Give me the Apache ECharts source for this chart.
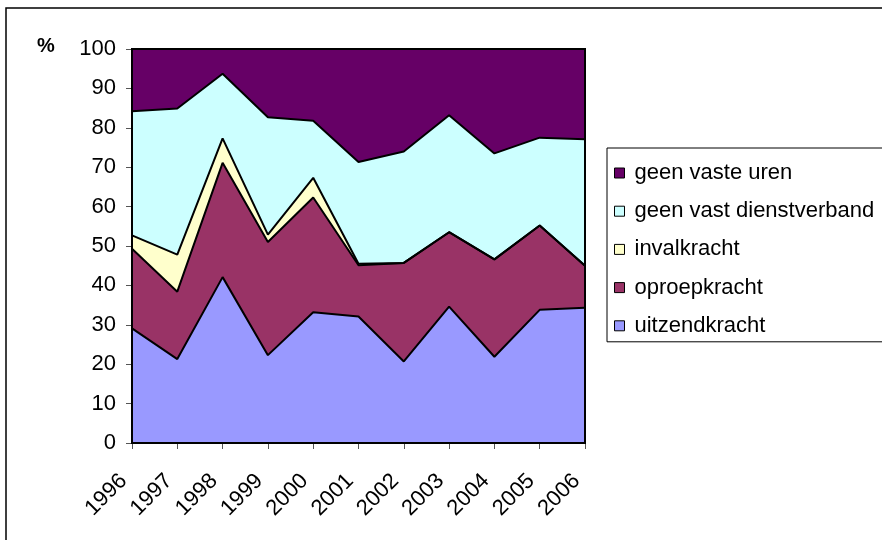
<!DOCTYPE html>
<html>
<head>
<meta charset="utf-8">
<script src="https://cdn.jsdelivr.net/npm/echarts@6/dist/echarts.min.js"></script>
<style>
html,body{margin:0;padding:0;background:#fff;}
#chart{width:882px;height:540px;}
</style>
</head>
<body>
<div id="chart"></div>
<script>
var years = ['1996','1997','1998','1999','2000','2001','2002','2003','2004','2005','2006'];
var uitzendkracht = [29.1, 21.3, 42.1, 22.3, 33.2, 32.1, 20.7, 34.6, 21.9, 33.8, 34.3];
var oproepkracht = [20.2, 17.1, 29.0, 28.7, 29.1, 13.0, 25.0, 18.9, 24.7, 21.4, 10.7];
var invalkracht = [3.4, 9.4, 6.2, 1.9, 5.0, 0.4, 0, 0, 0, 0, 0];
var geenVastDienstverband = [31.5, 37.1, 16.4, 29.8, 14.5, 25.8, 28.3, 29.7, 26.9, 22.3, 32.1];
var geenVasteUren = [15.8, 15.1, 6.3, 17.3, 18.2, 28.7, 26.0, 16.8, 26.5, 22.5, 22.9];
var yTicks = [0, 10, 20, 30, 40, 50, 60, 70, 80, 90, 100];

var names = ['uitzendkracht', 'oproepkracht', 'invalkracht', 'geen vast dienstverband', 'geen vaste uren'];
var datas = [uitzendkracht, oproepkracht, invalkracht, geenVastDienstverband, geenVasteUren];
var colors = ['#9999FF', '#993366', '#FFFFCC', '#CCFFFF', '#660066'];

var font = 'Liberation Sans, Arial, sans-serif';
var series = [];
names.forEach(function (n, i) {
  series.push({
    name: n, type: 'line', stack: 'area', data: datas[i],
    showSymbol: false, symbol: 'none', silent: true,
    color: colors[i],
    itemStyle: { color: colors[i] },
    lineStyle: { width: 0, color: colors[i] },
    areaStyle: { color: colors[i], opacity: 1 },
    z: 2
  });
});
names.forEach(function (n, i) {
  series.push({
    name: n + ' outline', type: 'line', stack: 'outline', data: datas[i],
    showSymbol: false, symbol: 'none', silent: true,
    lineStyle: { width: 2, color: '#000' },
    z: 4
  });
});

var chart = echarts.init(document.getElementById('chart'), null, { renderer: 'canvas' });
chart.setOption({
  animation: false,
  backgroundColor: '#fff',
  grid: { left: 132, top: 49, right: 297, bottom: 97, show: true, borderColor: '#000', borderWidth: 2, backgroundColor: 'transparent', z: 5 },
  legend: {
    data: ['geen vaste uren', 'geen vast dienstverband', 'invalkracht', 'oproepkracht', 'uitzendkracht'],
    orient: 'vertical', left: 607, top: 148,
    padding: [14, 40, 5, 7],
    itemGap: 16.2, itemWidth: 10, itemHeight: 10,
    icon: 'rect',
    itemStyle: { borderColor: '#000', borderWidth: 1 },
    borderColor: '#000', borderWidth: 1,
    textStyle: { fontFamily: font, fontSize: 22, color: '#000', padding: [0, 0, 0, 5] },
    selectedMode: false
  },
  xAxis: {
    type: 'category', data: years, boundaryGap: false,
    axisLine: { show: true, lineStyle: { color: '#000', width: 1 } },
    axisTick: { show: true, alignWithLabel: true, length: 6, lineStyle: { color: '#555' } },
    axisLabel: { rotate: 45, fontFamily: font, fontSize: 22, color: '#000', margin: 26, interval: 0, padding: [0, 12, 0, 0] },
    splitLine: { show: false }
  },
  yAxis: {
    type: 'value', min: 0, max: 100, interval: 10,
    axisLine: { show: true, lineStyle: { color: '#000', width: 1 } },
    axisTick: { show: true, length: 6, lineStyle: { color: '#555' } },
    axisLabel: { fontFamily: font, fontSize: 22, color: '#000', margin: 16,
      formatter: function (v) { return yTicks.indexOf(v) >= 0 ? String(v) : ''; } },
    splitLine: { show: false }
  },
  graphic: [
    { type: 'rect', shape: { x: 6, y: 8, width: 1000, height: 1000 }, style: { fill: null, stroke: '#000', lineWidth: 1.5 }, silent: true, z: 100 },
    { type: 'text', left: 37, top: 36, style: { text: '%', font: 'bold 20px ' + font, fill: '#000' }, z: 100 }
  ],
  series: series
});
</script>
</body>
</html>
